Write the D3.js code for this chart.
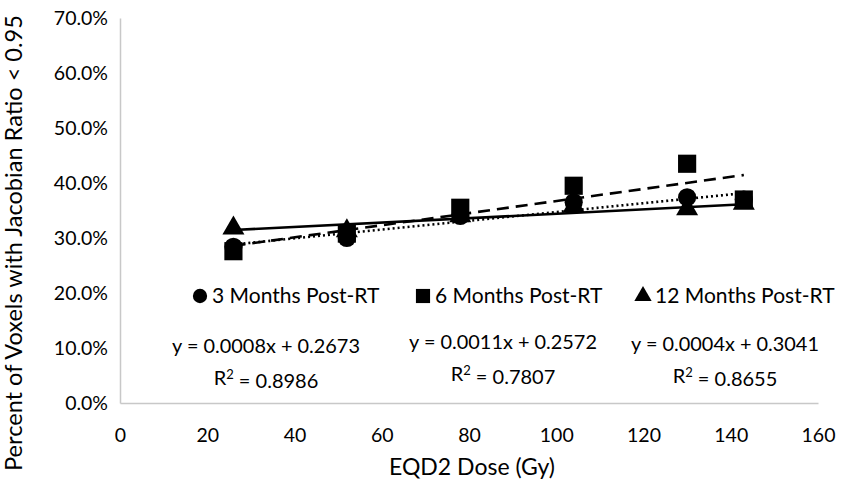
<!DOCTYPE html>
<html>
<head>
<meta charset="utf-8">
<script src="https://cdn.jsdelivr.net/npm/d3@7"></script>
<style>
  body { margin: 0; background: #fff; }
  text { font-family: Lato, "Liberation Sans", sans-serif; fill: #000; }
</style>
</head>
<body>
<div id="chart"></div>
<script>
const width = 845;
const height = 483;

// doses (Gy) and fraction of voxels per follow-up time
const doses = [26, 52, 78, 104, 130, 143];
const months3 = [0.284, 0.300, 0.340, 0.365, 0.374, 0.370];
const months6 = [0.276, 0.308, 0.355, 0.395, 0.435, 0.370];
const months12 = [0.318, 0.313, 0.340, 0.358, 0.353, 0.363];

const seriesNames = ["3 Months Post-RT", "6 Months Post-RT", "12 Months Post-RT"];
const slopes = [0.0008, 0.0011, 0.0004];
const intercepts = [0.2673, 0.2572, 0.3041];
const rSquared = ["0.8986", "0.7807", "0.8655"];

const xTicks = [0, 20, 40, 60, 80, 100, 120, 140, 160];
const yTicks = [0, 0.1, 0.2, 0.3, 0.4, 0.5, 0.6, 0.7];

const margin = { top: 18, right: 27, bottom: 80, left: 120 };

const svg = d3.select('#chart')
    .append('svg')
    .attr('width', width)
    .attr('height', height);

// scale a text's font so it spans the given width
function fitWidth(sel, target) {
    sel.style('font-size', '20px');
    const w = sel.node().getComputedTextLength();
    sel.style('font-size', (20 * target / w).toFixed(2) + 'px');
}

const x = d3.scaleLinear().domain([0, 160]).range([margin.left, width - margin.right]);
const y = d3.scaleLinear().domain([0, 0.7]).range([height - margin.bottom, margin.top]);

// axes, Excel style: grey line, no tick marks
const xAxis = svg.append('g')
    .attr('transform', `translate(0,${height - margin.bottom})`)
    .call(d3.axisBottom(x).tickValues(xTicks).tickSize(0).tickPadding(25).tickFormat(d3.format('d')));
const yAxis = svg.append('g')
    .attr('transform', `translate(${margin.left},0)`)
    .call(d3.axisLeft(y).tickValues(yTicks).tickSize(0).tickPadding(12).tickFormat(d3.format('.1%')));

[xAxis, yAxis].forEach(a => {
    a.select('.domain').attr('stroke', '#c8c8c8').attr('stroke-width', 1.5);
    a.selectAll('text').style('font-size', '19.5px').style('font-family', 'Lato, sans-serif').attr('fill', '#000');
});

svg.append('text')
    .attr('x', 472)
    .attr('y', 467)
    .attr('dy', '0.35em')
    .attr('text-anchor', 'middle')
    .text('EQD2 Dose (Gy)')
    .call(fitWidth, 166);

svg.append('text')
    .attr('transform', 'translate(14,243) rotate(-90)')
    .attr('dy', '0.35em')
    .attr('text-anchor', 'middle')
    .text('Percent of Voxels with Jacobian Ratio < 0.95')
    .call(fitWidth, 456);

// trendlines
const dashes = ['2,3', '12,7', null];
const lineGen = d3.line().x(d => x(d[0])).y(d => y(d[1]));
const xMin = d3.min(doses), xMax = d3.max(doses);

seriesNames.forEach((name, i) => {
    const pts = [[xMin, slopes[i] * xMin + intercepts[i]], [xMax, slopes[i] * xMax + intercepts[i]]];
    svg.append('path')
        .attr('d', lineGen(pts))
        .attr('fill', 'none')
        .attr('stroke', '#000')
        .attr('stroke-width', 2.6)
        .attr('stroke-dasharray', dashes[i]);
});

// markers
const symbols = [d3.symbolCircle, d3.symbolSquare, d3.symbolTriangle];
const markerSize = [260, 330, 210];
const allSeries = [months3, months6, months12];

allSeries.forEach((vals, i) => {
    svg.append('g')
        .selectAll('path')
        .data(vals)
        .enter()
        .append('path')
        .attr('transform', (d, j) => `translate(${x(doses[j])},${y(d)})`)
        .attr('d', d3.symbol().type(symbols[i]).size(markerSize[i]))
        .attr('fill', '#000');
});

// legend
const legendY = 296;
const legendX = [200, 423, 643];
const legend = svg.append('g');
seriesNames.forEach((name, i) => {
    legend.append('path')
        .attr('transform', `translate(${legendX[i]},${legendY})`)
        .attr('d', d3.symbol().type(symbols[i]).size([160, 200, 130][i]))
        .attr('fill', '#000');
    legend.append('text')
        .attr('x', legendX[i] + 12)
        .attr('y', legendY)
        .attr('dy', '0.35em')
        .style('font-size', '21px')
        .text(name);
});

// regression equations
const eqX = [266, 503, 725];
const eqY = [346, 342, 344];
const fmt4 = d3.format('.4f');
seriesNames.forEach((name, i) => {
    svg.append('text')
        .attr('x', eqX[i])
        .attr('y', eqY[i])
        .attr('dy', '0.35em')
        .attr('text-anchor', 'middle')
        .text(`y = ${fmt4(slopes[i])}x + ${fmt4(intercepts[i])}`)
        .call(fitWidth, 188);
    const r = svg.append('text')
        .attr('x', eqX[i])
        .attr('y', eqY[i] + 32)
        .attr('dy', '0.35em')
        .attr('text-anchor', 'middle')
        .style('font-size', '20px');
    r.append('tspan').text('R');
    r.append('tspan').attr('dy', '-0.45em').style('font-size', '13px').text('2');
    r.append('tspan').attr('dy', '0.45em').text(` = ${rSquared[i]}`);
});
</script>
</body>
</html>
